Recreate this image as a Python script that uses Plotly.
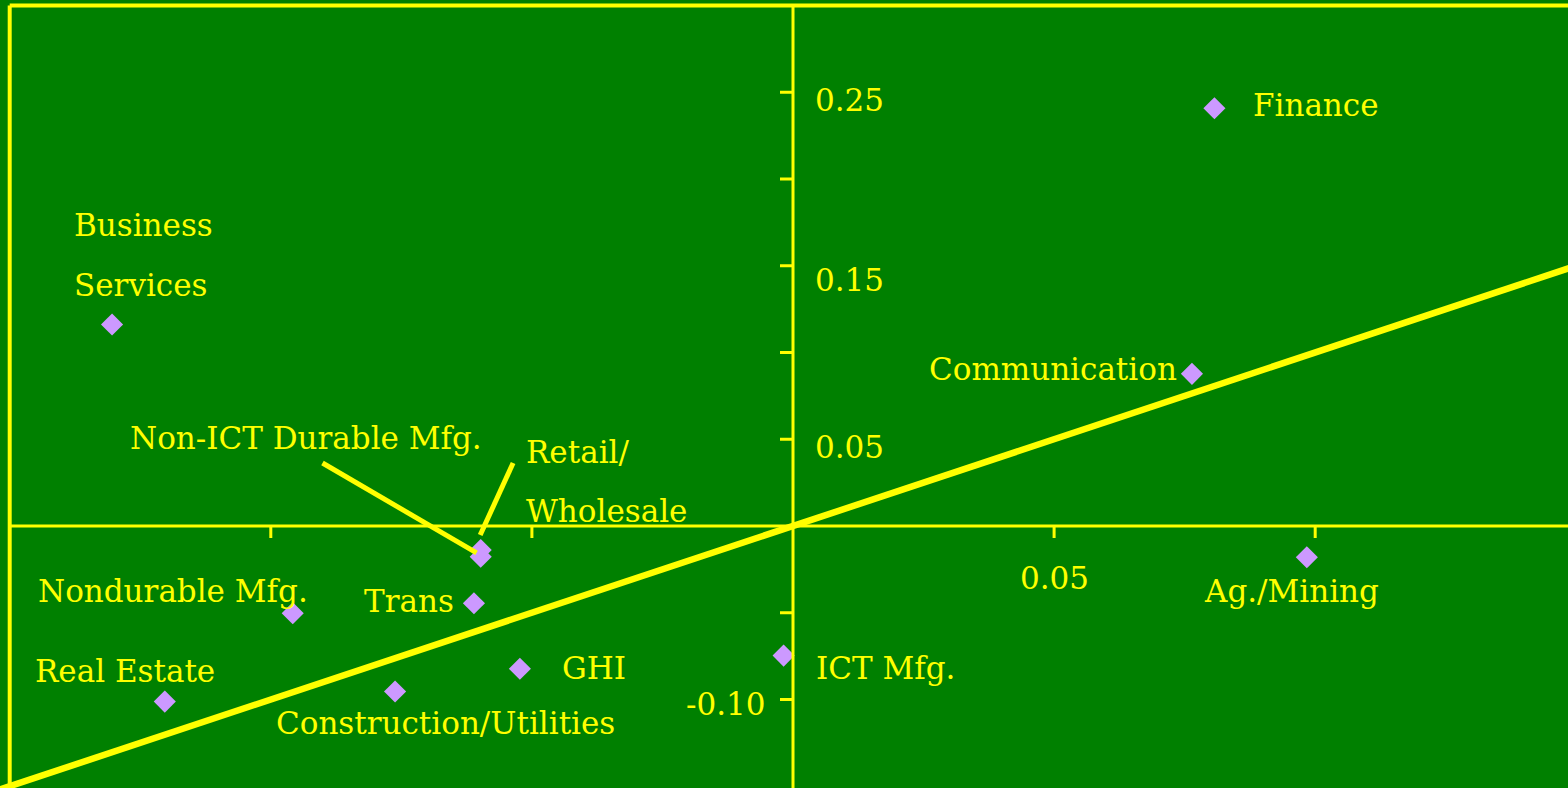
import plotly.graph_objects as go

# Sector coordinates (x: horizontal measure, y: vertical measure)
sectors = ["Finance", "Communication", "Ag./Mining", "ICT Mfg.", "Business Services",
           "Non-ICT Durable Mfg.", "Retail/Wholesale", "Trans", "Nondurable Mfg.",
           "Real Estate", "GHI", "Construction/Utilities"]
x_vals = [0.0807, 0.0764, 0.0984, -0.0018, -0.1304,
          -0.0598, -0.0598, -0.0611, -0.0958,
          -0.1203, -0.0523, -0.0762]
y_vals = [0.2408, 0.0877, -0.0180, -0.0747, 0.1161,
          -0.0177, -0.0138, -0.0445, -0.0503,
          -0.1012, -0.0823, -0.0954]

# Axis tick values and the labelled subset
y_ticks = [0.25, 0.20, 0.15, 0.10, 0.05, -0.05, -0.10]
x_ticks = [-0.10, -0.05, 0.05, 0.10]
y_tick_labels = {0.25: "0.25", 0.15: "0.15", 0.05: "0.05", -0.10: "-0.10"}
x_tick_labels = {0.05: "0.05"}

# Frame limits
frame_left, frame_top = -0.15, 0.30

GREEN = "#008000"
YELLOW = "#FFFF00"
LAVENDER = "#CC99FF"
FONT = dict(family="DejaVu Serif", size=31, color=YELLOW)

# Pixel scale of the plotting area
X_SCALE, Y_SCALE = 5222, 1735
X_ORIGIN, Y_ORIGIN = 793, 526

fig = go.Figure()

# 45-degree reference line
fig.add_trace(go.Scatter(x=[-0.16, 0.16], y=[-0.16, 0.16], mode="lines",
                         line=dict(color=YELLOW, width=6.5), hoverinfo="skip"))

# Sector points
fig.add_trace(go.Scatter(x=x_vals, y=y_vals, mode="markers", text=sectors,
                         marker=dict(symbol="diamond", size=17, color=LAVENDER,
                                     line=dict(width=0))))

shapes = []
# Frame (top and left edges)
shapes.append(dict(type="line", xref="x", yref="y", x0=frame_left, x1=frame_left,
                   y0=-0.2, y1=frame_top, line=dict(color=YELLOW, width=4)))
shapes.append(dict(type="line", xref="x", yref="y", x0=frame_left, x1=0.2,
                   y0=frame_top, y1=frame_top, line=dict(color=YELLOW, width=4)))
# Axes through the origin
shapes.append(dict(type="line", xref="x", yref="y", x0=0, x1=0, y0=-0.2, y1=frame_top,
                   line=dict(color=YELLOW, width=3)))
shapes.append(dict(type="line", xref="x", yref="y", x0=frame_left, x1=0.2, y0=0, y1=0,
                   line=dict(color=YELLOW, width=3)))
# Tick marks
for v in y_ticks:
    shapes.append(dict(type="line", xref="x", yref="y", xsizemode="pixel", xanchor=0,
                       x0=-13, x1=0, y0=v, y1=v, line=dict(color=YELLOW, width=3)))
for v in x_ticks:
    shapes.append(dict(type="line", xref="x", yref="y", ysizemode="pixel", yanchor=0,
                       y0=-12, y1=0, x0=v, x1=v, line=dict(color=YELLOW, width=3)))
# Leader lines for the overlapping pair
shapes.append(dict(type="line", xref="x", yref="y", x0=-0.0901, y0=0.0363,
                   x1=-0.0606, y1=-0.0155, line=dict(color=YELLOW, width=5)))
shapes.append(dict(type="line", xref="x", yref="y", x0=-0.0536, y0=0.0363,
                   x1=-0.0599, y1=-0.0052, line=dict(color=YELLOW, width=5)))

annotations = []

def label(i, text, xshift, yshift, xanchor):
    annotations.append(dict(x=x_vals[i], y=y_vals[i], xref="x", yref="y", text=text,
                            showarrow=False, xanchor=xanchor, yanchor="middle",
                            xshift=xshift, yshift=yshift, font=FONT))

label(0, "Finance", 37, 3, "left")
label(1, "Communication", -13, 5, "right")
label(2, "Ag./Mining", -15, -34, "center")
label(3, "ICT Mfg.", 30, -12, "left")
label(4, "Business", -40, 100, "left")
label(4, "Services", -40, 40, "left")
label(5, "Non-ICT Durable Mfg.", 3, 119, "right")
label(6, "Retail/", 43, 98, "left")
label(6, "Wholesale", 43, 39, "left")
label(7, "Trans", -18, 2, "right")
label(8, "Nondurable Mfg.", -120, 22, "center")
label(9, "Real Estate", -40, 31, "center")
label(10, "GHI", 40, 1, "left")
label(11, "Construction/Utilities", 50, -31, "center")

# Tick labels
tick_offsets_y = {0.25: (20, -8), 0.15: (20, -14), 0.05: (20, -8), -0.10: (-25, -4)}
for v, t in y_tick_labels.items():
    dx, dy = tick_offsets_y[v]
    annotations.append(dict(x=0, y=v, xref="x", yref="y", text=t, showarrow=False,
                            xanchor="left" if dx > 0 else "right", yanchor="middle",
                            xshift=dx, yshift=dy, font=FONT))
for v, t in x_tick_labels.items():
    annotations.append(dict(x=v, y=0, xref="x", yref="y", text=t, showarrow=False,
                            xanchor="center", yanchor="middle",
                            xshift=0, yshift=-52, font=FONT))

fig.update_layout(
    width=1568, height=788,
    margin=dict(l=0, r=0, t=0, b=0),
    paper_bgcolor=GREEN, plot_bgcolor=GREEN,
    showlegend=False,
    xaxis=dict(range=[-X_ORIGIN / X_SCALE, (1568 - X_ORIGIN) / X_SCALE],
               visible=False, fixedrange=True),
    yaxis=dict(range=[-(788 - Y_ORIGIN) / Y_SCALE, Y_ORIGIN / Y_SCALE],
               visible=False, fixedrange=True),
    shapes=shapes,
    annotations=annotations,
)

fig.write_html("out.html")
